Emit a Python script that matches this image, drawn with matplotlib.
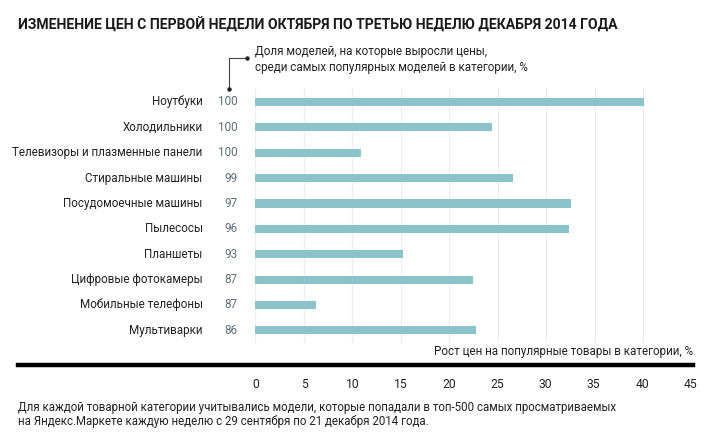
import numpy as np
import matplotlib.pyplot as plt
from matplotlib.lines import Line2D

plt.rcParams['font.family'] = ['Roboto', 'DejaVu Sans']

# Data
categories = ['Ноутбуки', 'Холодильники', 'Телевизоры и плазменные панели',
              'Стиральные машины', 'Посудомоечные машины', 'Пылесосы',
              'Планшеты', 'Цифровые фотокамеры', 'Мобильные телефоны', 'Мультиварки']
share_up = [100, 100, 100, 99, 97, 96, 93, 87, 87, 86]
price_growth = [40.1, 24.4, 10.9, 26.6, 32.5, 32.3, 15.2, 22.4, 6.3, 22.8]
xticks = [0, 5, 10, 15, 20, 25, 30, 35, 40, 45]

W, H = 717, 443
fig = plt.figure(figsize=(W / 100, H / 100), dpi=100)

def fx(px):
    return px / W

def fy(py):
    return 1 - py / H

fs = 8.4

# main axes: pixel box x 255..692, y 88..343
ax = fig.add_axes([fx(255), fy(343), fx(692) - fx(255), fy(88) - fy(343)])
n = len(categories)
y = np.arange(n)
ax.barh(y, price_growth, height=0.32, color='#8bc3cb', zorder=2)
ax.set_xlim(0, 45)
ax.set_ylim(n - 0.5, -0.55)
ax.set_xticks(xticks)
ax.grid(axis='x', color='#eceff1', linewidth=0.9, zorder=0)
ax.tick_params(left=False, bottom=False, labelleft=False, labelbottom=False)
for s in ax.spines.values():
    s.set_visible(False)

# labels left of bars
for i in range(n):
    ax.text(-5.4, y[i], categories[i], ha='right', va='center', fontsize=fs, color='#222222')
    ax.text(-1.8, y[i], str(share_up[i]), ha='right', va='center', fontsize=fs, color='#5d6d78')

# tick labels below black line
for t in xticks:
    fig.text(fx(256 + t * 9.65), fy(384), str(t), ha='center', va='center', fontsize=fs + 0.3, color='#222222')

# thick black line
fig.add_artist(Line2D([fx(18), fx(693)], [fy(365), fy(365)], color='black', linewidth=3.2))

# x-axis caption
fig.text(fx(693), fy(352), 'Рост цен на популярные товары в категории, %', ha='right', va='center',
         fontsize=fs, color='#222222')

# title
fig.text(fx(18), fy(25), 'ИЗМЕНЕНИЕ ЦЕН С ПЕРВОЙ НЕДЕЛИ ОКТЯБРЯ ПО ТРЕТЬЮ НЕДЕЛЮ ДЕКАБРЯ 2014 ГОДА',
         ha='left', va='center', fontsize=10.1, fontweight='bold', color='#1a1a1a')

# annotation for the share column
fig.add_artist(Line2D([fx(229), fx(229), fx(246)], [fy(89), fy(58), fy(58)], color='#444444', linewidth=0.8))
fig.add_artist(Line2D([fx(229)], [fy(89)], marker='o', markersize=2.2, color='#222222'))
fig.add_artist(Line2D([fx(247)], [fy(58)], marker='o', markersize=2.2, color='#222222'))
fig.text(fx(255), fy(52), 'Доля моделей, на которые выросли цены,', ha='left', va='center',
         fontsize=fs, color='#222222')
fig.text(fx(255), fy(68), 'среди самых популярных моделей в категории, %', ha='left', va='center',
         fontsize=fs, color='#222222')

# footnote
fig.text(fx(18), fy(408), 'Для каждой товарной категории учитывались модели, которые попадали в топ-500 самых просматриваемых',
         ha='left', va='center', fontsize=8.3, color='#222222')
fig.text(fx(18), fy(422), 'на Яндекс.Маркете каждую неделю с 29 сентября по 21 декабря 2014 года.',
         ha='left', va='center', fontsize=8.3, color='#222222')

fig.savefig('out.png', dpi=100)
